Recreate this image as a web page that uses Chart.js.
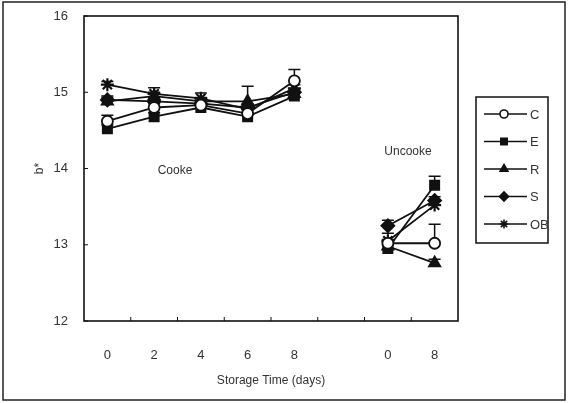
<!DOCTYPE html>
<html>
<head>
<meta charset="utf-8">
<script src="https://cdn.jsdelivr.net/npm/chart.js@4/dist/chart.umd.min.js"></script>
<style>
html,body{margin:0;padding:0;background:#fff;}
#wrap{width:569px;height:403px;position:relative;}
</style>
</head>
<body>
<div id="wrap"><canvas id="c" width="569" height="403"></canvas></div>
<script>
// Categories: cooked days 0..8, a gap, then uncooked days 0 and 8
const categories = ['0', '2', '4', '6', '8', '', '0', '8'];
const seriesNames = ['C', 'E', 'R', 'S', 'OB'];
// b* values (null = gap between cooked and uncooked groups)
const valuesC  = [14.62, 14.80, 14.83, 14.72, 15.15, null, 13.02, 13.02];
const valuesE  = [14.52, 14.68, 14.80, 14.68, 14.95, null, 12.95, 13.78];
const valuesR  = [14.88, 14.95, 14.88, 14.88, 14.98, null, 12.98, 12.76];
const valuesS  = [14.90, 14.88, 14.85, 14.80, 15.00, null, 13.25, 13.58];
const valuesOB = [15.10, 14.98, 14.92, 14.78, 15.05, null, 13.05, 13.52];
// upward error bars
const errC  = [0.08, 0.05, 0.05, 0.05, 0.15, null, 0.05, 0.25];
const errE  = [0.05, 0.05, 0.05, 0.05, 0.05, null, 0.05, 0.12];
const errR  = [0.05, 0.05, 0.05, 0.20, 0.05, null, 0.05, 0.05];
const errS  = [0.05, 0.05, 0.05, 0.05, 0.05, null, 0.07, 0.05];
const errOB = [0.04, 0.08, 0.07, 0.05, 0.05, null, 0.10, 0.05];
const yTicks = [12, 13, 14, 15, 16];

const INK = '#111';
const TXT = '#333';
const FONT = '"Liberation Sans", Arial, sans-serif';

const styles = [
  {pointStyle: 'circle', bg: '#fff', r: 5.5},
  {pointStyle: 'rect', bg: INK, r: 6.5},
  {pointStyle: 'triangle', bg: INK, r: 6.5},
  {pointStyle: 'rectRot', bg: INK, r: 6.5},
  {pointStyle: 'star', bg: INK, r: 6.5}
];
const allValues = [valuesC, valuesE, valuesR, valuesS, valuesOB];
const allErr = [errC, errE, errR, errS, errOB];

const datasets = seriesNames.map((n, i) => ({
  label: n,
  data: allValues[i],
  errors: allErr[i],
  borderColor: INK,
  borderWidth: 1.8,
  backgroundColor: styles[i].bg,
  pointStyle: styles[i].pointStyle,
  pointRadius: styles[i].r,
  pointBorderWidth: i === 4 ? 2.2 : 1.8,
  pointBorderColor: INK,
  pointBackgroundColor: styles[i].bg,
  spanGaps: false,
  tension: 0
}));

const decor = {
  id: 'decor',
  beforeDraw(chart) {
    const ctx = chart.ctx;
    ctx.save();
    ctx.fillStyle = '#fff';
    ctx.fillRect(0, 0, chart.width, chart.height);
    ctx.strokeStyle = '#222';
    ctx.lineWidth = 1.5;
    ctx.strokeRect(3, 2, 562, 398);
    ctx.restore();
  },
  beforeDatasetsDraw(chart) {
    const ctx = chart.ctx;
    const a = chart.chartArea;
    const xs = chart.scales.x, ys = chart.scales.y;
    ctx.save();
    ctx.strokeStyle = INK;
    ctx.lineWidth = 1.6;
    ctx.strokeRect(a.left, a.top, a.right - a.left, a.bottom - a.top);
    ctx.lineWidth = 1;
    yTicks.forEach(v => {
      const y = ys.getPixelForValue(v);
      ctx.beginPath(); ctx.moveTo(a.left, y); ctx.lineTo(a.left + 4, y); ctx.stroke();
    });
    for (let i = 0; i < categories.length - 1; i++) {
      const x = (xs.getPixelForValue(i) + xs.getPixelForValue(i + 1)) / 2;
      ctx.beginPath(); ctx.moveTo(x, a.bottom); ctx.lineTo(x, a.bottom - 4); ctx.stroke();
    }
    ctx.lineWidth = 1.5;
    chart.data.datasets.forEach(ds => {
      ds.data.forEach((v, i) => {
        const e = ds.errors[i];
        if (v == null || e == null) return;
        const x = xs.getPixelForValue(i);
        const y0 = ys.getPixelForValue(v);
        const y1 = ys.getPixelForValue(v + e);
        ctx.beginPath(); ctx.moveTo(x, y0); ctx.lineTo(x, y1);
        ctx.moveTo(x - 6, y1); ctx.lineTo(x + 6, y1); ctx.stroke();
      });
    });
    ctx.restore();
  },
  afterDraw(chart) {
    const ctx = chart.ctx;
    const a = chart.chartArea;
    ctx.save();
    ctx.fillStyle = TXT;
    ctx.font = '12px ' + FONT;
    ctx.textAlign = 'center';
    ctx.textBaseline = 'middle';
    ctx.fillText('Storage Time (days)', (a.left + a.right) / 2, 381);
    ctx.save();
    ctx.translate(40, (a.top + a.bottom) / 2);
    ctx.rotate(-Math.PI / 2);
    ctx.fillText('b*', 0, 0);
    ctx.restore();
    ctx.font = '12px ' + FONT;
    ctx.fillText('Cooke', 175, 171);
    ctx.fillText('Uncooke', 408, 152);
    // legend
    ctx.strokeStyle = INK;
    ctx.lineWidth = 1.5;
    ctx.strokeRect(476, 97, 72, 146);
    chart.data.datasets.forEach((ds, i) => {
      const y = 114 + i * 27.5;
      ctx.strokeStyle = INK;
      ctx.lineWidth = 1.6;
      ctx.beginPath(); ctx.moveTo(484, y); ctx.lineTo(527, y); ctx.stroke();
      ctx.fillStyle = ds.pointBackgroundColor;
      ctx.beginPath();
      Chart.helpers.drawPoint(ctx, {pointStyle: ds.pointStyle, radius: i === 0 ? 4 : 4.5, borderWidth: 1.6}, 504, y);
      ctx.fillStyle = TXT;
      ctx.font = '13px ' + FONT;
      ctx.textAlign = 'left';
      ctx.fillText(ds.label, 530, y + 1);
    });
    ctx.restore();
  }
};

new Chart(document.getElementById('c'), {
  type: 'line',
  data: {labels: categories, datasets},
  options: {
    responsive: false,
    animation: false,
    devicePixelRatio: 1,
    layout: {padding: {left: 0, top: 16, right: 111, bottom: 0}},
    plugins: {legend: {display: false}, tooltip: {enabled: false}},
    scales: {
      x: {
        type: 'category',
        offset: true,
        grid: {display: false},
        border: {display: false},
        ticks: {color: TXT, font: {family: FONT, size: 13}, padding: 19, autoSkip: false, maxRotation: 0},
        afterFit(s) { s.height = 82; }
      },
      y: {
        min: 12, max: 16,
        grid: {display: false},
        border: {display: false},
        ticks: {stepSize: 1, color: TXT, font: {family: FONT, size: 13}, padding: 8},
        afterFit(s) { s.width = 84; }
      }
    }
  },
  plugins: [decor]
});
</script>
</body>
</html>
